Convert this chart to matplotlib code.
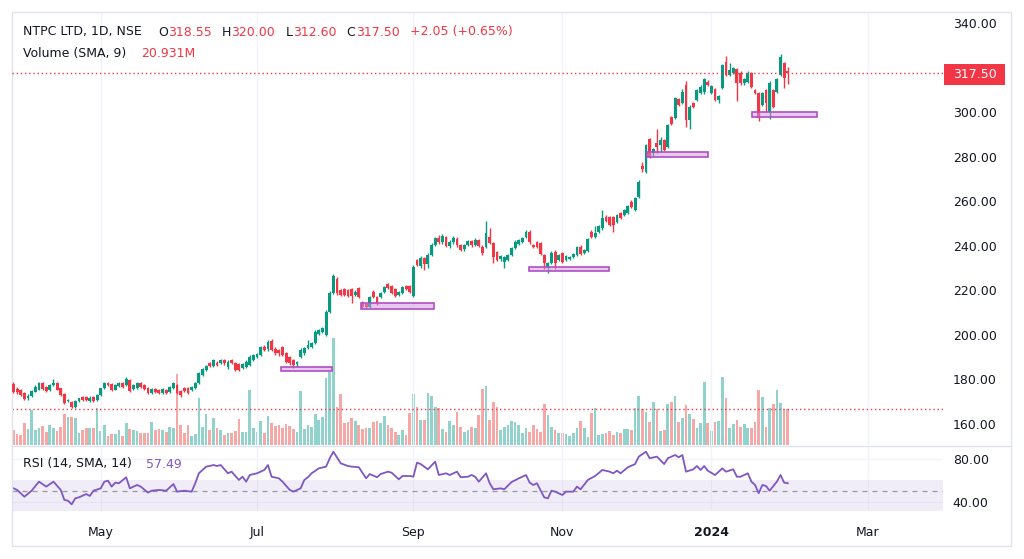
import numpy as np
import matplotlib
matplotlib.use("Agg")
import matplotlib.pyplot as plt
from matplotlib.patches import Rectangle
from matplotlib.lines import Line2D

# daily candles, NTPC LTD (NSE), one row per bar: open, high, low, close
ohlc = [
    (178.0, 179.0, 173.8, 174.2), (175.6, 176.5, 173.5, 174.4), (175.3, 175.8, 172.5, 173.0),
    (173.8, 174.2, 170.6, 171.2), (171.5, 173.5, 171.0, 172.8), (172.6, 175.4, 172.2, 174.9),
    (174.5, 177.3, 174.2, 176.7), (175.5, 178.9, 175.1, 178.3), (178.3, 179.0, 175.4, 175.8),
    (176.5, 177.1, 174.4, 175.0), (175.1, 177.8, 174.8, 177.4), (177.3, 180.2, 176.9, 178.5),
    (178.4, 178.8, 175.1, 175.5), (176.0, 176.3, 172.6, 173.0), (173.6, 174.0, 169.2, 169.6),
    (170.2, 171.4, 169.7, 170.8), (169.9, 170.3, 167.1, 167.6), (167.8, 170.6, 167.4, 170.2),
    (170.2, 171.9, 169.9, 171.5), (172.3, 172.8, 170.5, 170.8), (172.0, 172.4, 170.2, 170.8),
    (170.4, 172.4, 170.0, 171.9), (172.3, 172.8, 169.9, 170.2), (170.6, 173.4, 170.2, 173.0),
    (173.0, 176.4, 172.6, 176.0), (176.2, 179.0, 175.8, 178.6), (178.2, 178.7, 177.2, 177.6),
    (177.8, 178.2, 174.9, 175.3), (175.5, 177.8, 175.1, 177.3), (176.9, 178.8, 176.5, 178.4),
    (178.6, 179.0, 176.1, 176.5), (177.6, 181.0, 177.2, 180.0), (179.6, 180.0, 174.5, 174.9),
    (175.8, 177.9, 175.4, 177.4), (176.0, 178.8, 175.6, 178.3), (178.3, 178.9, 176.3, 176.7),
    (177.5, 178.0, 175.2, 175.6), (176.0, 176.5, 173.3, 173.8), (174.1, 176.1, 173.6, 175.6),
    (175.6, 176.1, 174.0, 174.4), (175.3, 175.8, 173.4, 173.8), (174.1, 176.0, 173.7, 175.6),
    (175.3, 175.8, 173.7, 174.1), (174.5, 177.2, 174.1, 176.7), (176.0, 179.0, 175.6, 178.3),
    (177.5, 178.1, 173.3, 173.8), (174.8, 175.5, 172.3, 173.1), (176.3, 176.8, 174.3, 174.8),
    (176.3, 176.8, 173.5, 174.0), (175.3, 177.2, 174.9, 176.7), (176.0, 178.7, 175.6, 178.3),
    (178.3, 183.3, 178.0, 182.8), (182.0, 185.2, 181.6, 184.6), (184.2, 186.6, 183.8, 186.0),
    (187.2, 187.9, 185.6, 186.0), (186.0, 189.2, 185.6, 188.7), (187.5, 188.2, 186.0, 186.5),
    (187.2, 189.3, 186.8, 188.7), (188.7, 189.4, 186.5, 187.2), (185.4, 188.6, 184.9, 188.0),
    (188.7, 189.3, 186.8, 187.2), (187.5, 188.0, 183.7, 184.2), (186.9, 187.5, 184.0, 184.4),
    (185.0, 187.4, 184.6, 186.9), (185.4, 188.6, 185.0, 188.0), (186.5, 190.8, 186.1, 190.2),
    (188.7, 191.6, 188.2, 191.0), (190.2, 192.0, 189.8, 191.4), (191.0, 195.0, 190.6, 194.4),
    (194.4, 195.3, 192.8, 193.2), (193.5, 197.5, 193.0, 196.9), (197.4, 198.0, 192.8, 193.2),
    (193.5, 194.6, 191.0, 191.7), (193.2, 193.8, 190.5, 191.7), (194.4, 195.2, 190.5, 191.0),
    (191.7, 192.3, 187.5, 188.0), (190.2, 190.7, 186.6, 187.2), (188.7, 189.2, 185.0, 186.5),
    (186.9, 188.5, 185.5, 188.0), (190.2, 194.0, 189.7, 193.2), (191.7, 194.6, 191.2, 194.0),
    (194.0, 197.5, 193.5, 195.5), (194.4, 197.0, 194.0, 196.5), (196.2, 202.0, 195.8, 201.4),
    (200.4, 202.7, 199.8, 202.2), (201.4, 203.6, 200.9, 203.0), (200.0, 211.0, 199.5, 210.4),
    (210.4, 219.5, 209.8, 218.7), (218.7, 227.2, 218.2, 226.4), (224.9, 226.0, 218.0, 218.7),
    (220.1, 220.8, 217.3, 217.9), (220.5, 221.0, 217.4, 217.9), (220.1, 220.7, 216.9, 217.5),
    (220.5, 221.0, 214.2, 217.5), (217.9, 220.0, 217.3, 219.4), (220.9, 221.5, 216.5, 217.1),
    (214.4, 215.0, 212.0, 212.6), (213.9, 214.4, 211.8, 212.6), (212.6, 217.6, 212.0, 217.1),
    (219.4, 220.0, 216.6, 217.1), (217.1, 217.6, 213.6, 214.2), (216.9, 219.2, 216.4, 218.7),
    (219.4, 222.1, 219.0, 221.6), (222.7, 223.2, 220.4, 220.9), (221.9, 222.4, 218.2, 218.7),
    (220.5, 221.0, 217.0, 217.5), (217.9, 219.9, 217.4, 219.4), (218.7, 221.9, 218.2, 221.4),
    (221.9, 222.4, 220.0, 220.5), (221.9, 222.4, 218.9, 219.4), (217.4, 231.2, 216.8, 230.6),
    (233.6, 234.2, 230.8, 231.4), (231.0, 235.2, 230.2, 234.5), (234.5, 235.0, 229.3, 232.0),
    (232.0, 236.8, 230.0, 236.0), (236.0, 241.2, 235.5, 240.5), (240.2, 244.0, 239.8, 243.3),
    (243.5, 245.0, 240.8, 241.5), (241.5, 245.5, 241.0, 244.2), (244.0, 244.6, 239.4, 240.0),
    (240.0, 242.5, 239.2, 241.8), (241.5, 244.2, 241.0, 243.5), (243.2, 243.8, 239.6, 240.2),
    (240.5, 241.0, 237.5, 238.2), (238.4, 241.0, 237.8, 240.5), (240.3, 242.6, 239.8, 242.0),
    (242.0, 242.5, 239.6, 240.3), (240.3, 243.3, 239.8, 242.8), (242.5, 243.0, 239.3, 240.0),
    (239.4, 240.2, 236.0, 236.7), (239.4, 251.0, 238.8, 245.7), (244.1, 248.0, 240.6, 241.2),
    (241.1, 241.6, 232.3, 235.1), (237.3, 237.8, 233.0, 233.6), (233.9, 236.0, 233.3, 235.4),
    (232.8, 235.3, 230.0, 234.8), (233.8, 236.4, 233.3, 235.9), (235.9, 239.4, 235.4, 238.9),
    (238.9, 242.4, 238.4, 241.8), (240.8, 243.2, 240.3, 242.6), (241.8, 243.9, 241.3, 243.3),
    (244.1, 247.0, 243.6, 246.3), (246.3, 246.9, 241.0, 241.6), (240.3, 241.0, 238.8, 239.3),
    (241.8, 242.3, 239.0, 239.6), (241.1, 241.6, 235.8, 236.3), (235.9, 236.4, 229.5, 232.1),
    (230.0, 232.8, 227.6, 232.1), (232.1, 237.5, 231.6, 236.9), (237.3, 237.9, 229.8, 232.1),
    (233.6, 236.4, 233.0, 235.9), (236.6, 237.0, 232.2, 232.8), (233.6, 235.9, 233.0, 235.4),
    (234.0, 235.6, 233.4, 235.0), (234.8, 236.8, 234.3, 236.3), (235.9, 239.9, 235.4, 239.3),
    (239.6, 240.2, 235.8, 236.3), (236.6, 238.7, 236.1, 238.1), (237.8, 243.5, 237.3, 242.9),
    (246.3, 246.9, 243.5, 244.1), (243.8, 249.0, 243.3, 245.6), (246.3, 249.5, 245.8, 248.9),
    (247.8, 256.0, 247.3, 252.3), (253.0, 253.6, 250.8, 251.3), (252.7, 253.2, 248.8, 249.3),
    (252.7, 253.2, 246.3, 249.3), (250.8, 254.4, 250.3, 253.8), (254.6, 255.2, 251.8, 252.3),
    (253.8, 256.7, 253.3, 256.1), (254.6, 258.4, 254.1, 257.8), (259.8, 260.4, 257.0, 257.5),
    (256.1, 261.9, 255.5, 261.3), (262.0, 269.4, 261.4, 268.8), (275.8, 277.5, 273.0, 274.4),
    (273.1, 285.8, 272.5, 285.2), (287.8, 288.5, 279.4, 280.0), (281.5, 284.0, 280.5, 283.3),
    (286.3, 292.3, 281.5, 284.5), (285.2, 289.0, 282.0, 287.5), (287.5, 288.0, 282.4, 283.0),
    (284.5, 294.8, 284.0, 294.2), (297.7, 298.3, 294.0, 294.6), (297.2, 306.8, 296.7, 306.2),
    (305.7, 306.3, 302.6, 303.2), (304.2, 310.5, 303.7, 309.1), (312.1, 314.0, 293.5, 296.4),
    (296.4, 303.0, 292.5, 302.4), (304.0, 304.6, 301.6, 302.2), (305.4, 310.5, 304.9, 309.9),
    (308.4, 312.0, 307.9, 311.4), (308.8, 315.5, 308.3, 314.8), (313.7, 314.3, 311.6, 312.1),
    (308.4, 312.3, 307.9, 311.7), (310.2, 310.8, 304.9, 305.4), (305.4, 307.6, 304.0, 307.0),
    (310.7, 321.7, 310.2, 321.1), (322.6, 325.2, 316.0, 316.6), (316.6, 322.0, 316.0, 318.9),
    (317.4, 320.2, 316.9, 319.6), (319.2, 319.8, 305.0, 312.9), (317.7, 318.3, 312.3, 312.9),
    (312.9, 315.3, 312.3, 314.7), (313.6, 318.3, 313.1, 317.7), (317.4, 318.0, 310.9, 311.4),
    (309.9, 310.5, 307.9, 308.4), (308.4, 309.0, 296.2, 297.2), (303.2, 309.0, 302.6, 308.4),
    (309.9, 310.5, 300.0, 304.0), (300.2, 313.8, 297.0, 313.2), (309.9, 310.5, 301.8, 302.4),
    (309.2, 315.4, 308.7, 314.8), (316.6, 326.0, 316.0, 324.6), (321.9, 322.5, 311.0, 315.2),
    (318.55, 320.0, 312.6, 317.5),
]

# volume in millions of shares, one per bar
volume = [
    7.4, 5.4, 5.0, 10.9, 7.9, 17.5, 7.5, 8.4, 9.5, 6.7,
    9.9, 8.7, 7.0, 9.0, 15.4, 14.0, 14.0, 13.7, 6.2, 7.4,
    8.4, 8.4, 8.4, 18.7, 7.0, 9.9, 4.4, 5.7, 5.7, 7.4,
    4.5, 10.9, 7.9, 7.4, 7.0, 6.2, 6.2, 6.2, 11.7, 7.4,
    7.9, 7.5, 6.5, 9.0, 8.7, 35.7, 10.0, 6.0, 10.0, 4.5,
    5.5, 23.5, 9.0, 15.5, 7.5, 13.5, 8.5, 7.5, 5.0, 6.0,
    6.0, 7.0, 13.0, 6.5, 6.5, 27.5, 8.5, 6.5, 12.0, 6.0,
    14.5, 11.0, 9.5, 10.0, 8.5, 10.5, 9.5, 8.0, 6.5, 27.0,
    8.0, 10.0, 9.0, 15.5, 12.5, 14.0, 33.5, 36.5, 53.5, 19.0,
    25.5, 11.0, 11.5, 13.5, 12.0, 10.0, 8.0, 8.5, 8.5, 11.5,
    12.0, 11.0, 14.5, 10.0, 8.5, 6.5, 5.0, 7.5, 5.0, 16.0,
    25.5, 19.0, 12.5, 12.5, 26.0, 24.5, 19.0, 18.5, 8.0, 6.5,
    12.0, 10.0, 16.5, 9.0, 6.5, 7.5, 9.0, 8.5, 15.0, 28.0,
    29.5, 12.5, 21.5, 19.0, 7.5, 9.0, 10.0, 12.0, 11.5, 10.0,
    6.0, 8.5, 6.5, 10.0, 8.0, 6.5, 20.5, 15.0, 9.0, 7.5,
    6.0, 6.0, 5.5, 4.5, 6.0, 8.5, 12.0, 8.5, 4.0, 16.0,
    18.5, 5.0, 5.5, 6.0, 7.0, 5.0, 6.5, 6.0, 8.0, 8.0,
    7.5, 18.5, 24.5, 17.9, 16.4, 11.7, 21.4, 17.9, 7.0, 7.5,
    20.4, 21.7, 24.7, 11.4, 13.4, 20.0, 15.5, 13.0, 8.4, 11.0,
    31.7, 11.0, 7.0, 11.7, 12.0, 33.9, 23.4, 8.7, 10.5, 12.5,
    8.9, 10.5, 8.4, 8.7, 11.7, 27.5, 24.2, 9.2, 18.4, 20.4,
    27.5, 20.9, 18.0, 18.2,
]

# RSI(14): bar index and value
rsi_bar = [0, 1, 3, 5, 7, 9, 11, 13, 14, 15, 16, 17, 18, 20, 21, 22, 24, 25, 26, 27,
           28, 29, 31, 32, 34, 35, 37, 38, 40, 42, 44, 45, 47, 49, 50, 51, 53, 54, 55, 56,
           57, 59, 60, 62, 63, 64, 65, 67, 69, 70, 71, 73, 74, 76, 77, 79, 80, 81, 82, 84,
           86, 87, 88, 90, 92, 93, 95, 97, 98, 100, 101, 103, 104, 106, 107, 109, 110, 111, 112, 114,
           116, 117, 119, 120, 122, 123, 125, 126, 127, 128, 130, 131, 132, 134, 135, 137, 139, 141, 142, 143,
           144, 146, 147, 148, 149, 151, 152, 154, 155, 156, 158, 160, 162, 164, 165, 166, 167, 169, 171, 172,
           174, 175, 177, 179, 180, 182, 183, 184, 185, 187, 188, 189, 190, 191, 193, 195, 196, 198, 199, 200,
           202, 203, 204, 205, 206, 207, 208, 210, 211, 212, 213]
rsi_val = [52.7, 51.2, 44.9, 50.5, 58.9, 54.3, 58.9, 51.2, 41.9, 41.2, 37.8, 43.4, 44.3, 47.4, 45.6, 50.5, 52.7, 58.9, 59.8, 54.3,
           58.0, 57.4, 63.0, 52.7, 55.8, 54.3, 48.7, 50.5, 51.2, 50.5, 56.7, 49.6, 50.5, 49.6, 57.4, 66.7, 72.9, 73.5, 74.4, 73.5,
           74.4, 66.7, 68.2, 60.5, 63.5, 58.9, 65.1, 66.7, 69.8, 74.4, 63.5, 62.0, 58.9, 51.2, 49.6, 52.7, 60.5, 63.0, 66.7, 71.3,
           72.9, 80.7, 86.8, 76.0, 73.5, 72.9, 72.3, 62.0, 66.0, 63.0, 66.0, 68.2, 67.3, 61.1, 64.2, 64.2, 63.5, 76.6, 75.3, 70.4,
           77.5, 65.1, 66.7, 65.1, 68.2, 63.0, 63.5, 65.1, 63.5, 58.9, 66.7, 57.4, 51.8, 52.7, 51.8, 58.5, 62.0, 65.1, 58.0, 55.8,
           57.4, 44.3, 43.4, 50.5, 49.6, 46.5, 49.6, 49.6, 54.3, 51.8, 60.5, 64.2, 69.8, 68.2, 66.7, 69.1, 66.7, 72.3, 75.3, 82.2,
           86.8, 80.7, 82.2, 75.3, 80.7, 83.7, 81.6, 83.7, 68.2, 70.4, 73.5, 69.8, 73.5, 69.1, 65.1, 71.3, 68.2, 70.4, 63.5, 63.5,
           66.7, 58.9, 55.8, 48.1, 55.8, 54.9, 50.5, 58.9, 65.1, 58.0, 57.49]

# demand zones drawn on the chart: first bar, last bar, low, high
zone_start = [73.6, 95.6, 141.8, 174.3, 203.2]
zone_end = [87.6, 115.7, 163.8, 191.1, 221.0]
zone_low = [184.0, 211.7, 228.8, 280.0, 297.7]
zone_high = [185.7, 214.2, 230.6, 282.0, 300.2]

month_pos = [24, 67, 110, 151, 192, 235]
month_lbl = ['May', 'Jul', 'Sep', 'Nov', '2024', 'Mar']
price_ticks = [160, 180, 200, 220, 240, 260, 280, 300, 320, 340]

UP, DOWN = '#089981', '#f23645'
TXT, GRID, BORDER = '#131722', '#f0f3fa', '#e0e3eb'
PURPLE = '#7e57c2'

W, H = 1024, 559


def frect(x0, y0, x1, y1):
    # pixel box (top-left origin) -> figure fraction
    return [x0 / W, 1 - y1 / H, (x1 - x0) / W, (y1 - y0) / H]


def ptext(x, y, s, **kw):
    kw.setdefault('fontsize', 9)
    kw.setdefault('color', TXT)
    kw.setdefault('va', 'center')
    fig.text(x / W, 1 - y / H, s, **kw)


plt.rcParams['font.family'] = ['DejaVu Sans']

o, h, l, c = (np.array(col) for col in zip(*ohlc))
idx = np.arange(len(c))
vol = np.array(volume)
up = c >= o
cols = np.where(up, UP, DOWN)
vol_cols = np.where(up, '#26a69a', '#ef5350')

fig = plt.figure(figsize=(W / 100, H / 100), dpi=100)
fig.patch.set_facecolor('white')

ax_vol = fig.add_axes(frect(12, 12, 943, 445))
ax = fig.add_axes(frect(12, 12, 943, 445), sharex=ax_vol)
ax_rsi = fig.add_axes(frect(12, 446, 943, 511), sharex=ax_vol)
ax.set_zorder(3)
ax.patch.set_visible(False)

# volume
ax_vol.bar(idx, vol, width=0.74, color=vol_cols, alpha=0.5, linewidth=0)
ax_vol.axhline(vol[-1], color=DOWN, lw=1, ls=(0, (1, 2)))
ax_vol.set_ylim(0, 216.5)
ax_vol.set_yticks([])
ax_vol.tick_params(axis='x', length=0, labelbottom=False)

# candles
ax.vlines(idx, l, h, colors=cols, lw=1)
body = np.maximum(np.abs(c - o), 0.3)
ax.bar(idx, body, bottom=np.minimum(o, c), width=0.78, color=cols, linewidth=0)

for x0, x1, lo, hi in zip(zone_start, zone_end, zone_low, zone_high):
    ax.add_patch(Rectangle((x0, lo), x1 - x0, hi - lo, facecolor=(0.81, 0.58, 0.86, 0.5),
                           edgecolor='#b04fc4', lw=1.2, zorder=4))

ax.axhline(c[-1], color=DOWN, lw=1, ls=(0, (1, 2)))

ax.set_xlim(-0.41, 255.7)
ax.set_ylim(150.6, 344.9)
ax.set_xticks(month_pos)
ax.set_yticks(price_ticks)
ax.set_yticklabels(['' if t == 320 else f'{t:.2f}' for t in price_ticks])
ax.yaxis.tick_right()
ax.tick_params(axis='y', length=0, pad=7, labelsize=9, labelcolor=TXT)
ax.tick_params(axis='x', length=0, labelbottom=False)
ax_vol.set_xticks(month_pos)
ax_vol.grid(color=GRID, lw=1)

# RSI pane
ax_rsi.axhspan(30, 60, color=PURPLE, alpha=0.1, lw=0)
ax_rsi.axhline(50, color='#9598a1', lw=0.9, ls=(0, (4, 4)))
ax_rsi.plot(rsi_bar, rsi_val, color=PURPLE, lw=1.3)
ax_rsi.set_ylim(31.6, 92.1)
ax_rsi.set_yticks([40, 80])
ax_rsi.set_yticklabels(['40.00', '80.00'])
ax_rsi.yaxis.tick_right()
ax_rsi.tick_params(axis='y', length=0, pad=7, labelsize=9, labelcolor=TXT)
ax_rsi.set_xticks(month_pos)
ax_rsi.set_xticklabels(month_lbl)
ax_rsi.tick_params(axis='x', length=0, pad=11, labelsize=9, labelcolor=TXT)
ax_rsi.get_xticklabels()[4].set_fontweight('bold')
ax_rsi.grid(color=GRID, lw=1)
ax_rsi.set_axisbelow(True)

for a in (ax, ax_vol, ax_rsi):
    for s in a.spines.values():
        s.set_visible(False)

# frame and pane separator
fig.add_artist(Rectangle((12 / W, 1 - 546 / H), 999 / W, 534 / H, transform=fig.transFigure,
                         fill=False, edgecolor=BORDER, lw=1))
fig.add_artist(Line2D([12 / W, 1011 / W], [1 - 445.5 / H] * 2, transform=fig.transFigure,
                      color=BORDER, lw=1))

# last price tag
fig.add_artist(Rectangle((944 / W, 1 - 85 / H), 61 / W, 21 / H, transform=fig.transFigure,
                         facecolor=DOWN, edgecolor='none', zorder=5))
ptext(974.5, 74.5, f'{c[-1]:.2f}', color='white', ha='center', zorder=6)

# legends
ptext(23, 32, 'NTPC LTD, 1D, NSE')
ptext(158, 32, 'O')
ptext(168.5, 32, f'{o[-1]:.2f}', color=DOWN)
ptext(221.5, 32, 'H')
ptext(231.5, 32, f'{h[-1]:.2f}', color=DOWN)
ptext(286, 32, 'L')
ptext(293, 32, f'{l[-1]:.2f}', color=DOWN)
ptext(346.5, 32, 'C')
ptext(356.5, 32, f'{c[-1]:.2f}', color=DOWN)
ptext(409.5, 32, '+2.05 (+0.65%)', color=DOWN)
ptext(23, 53.5, 'Volume (SMA, 9)')
ptext(141, 53.5, '20.931M', color=DOWN)
ptext(23, 464, 'RSI (14, SMA, 14)')
ptext(146, 464, f'{rsi_val[-1]:.2f}', color=PURPLE)

fig.savefig('out.png', dpi=100)
